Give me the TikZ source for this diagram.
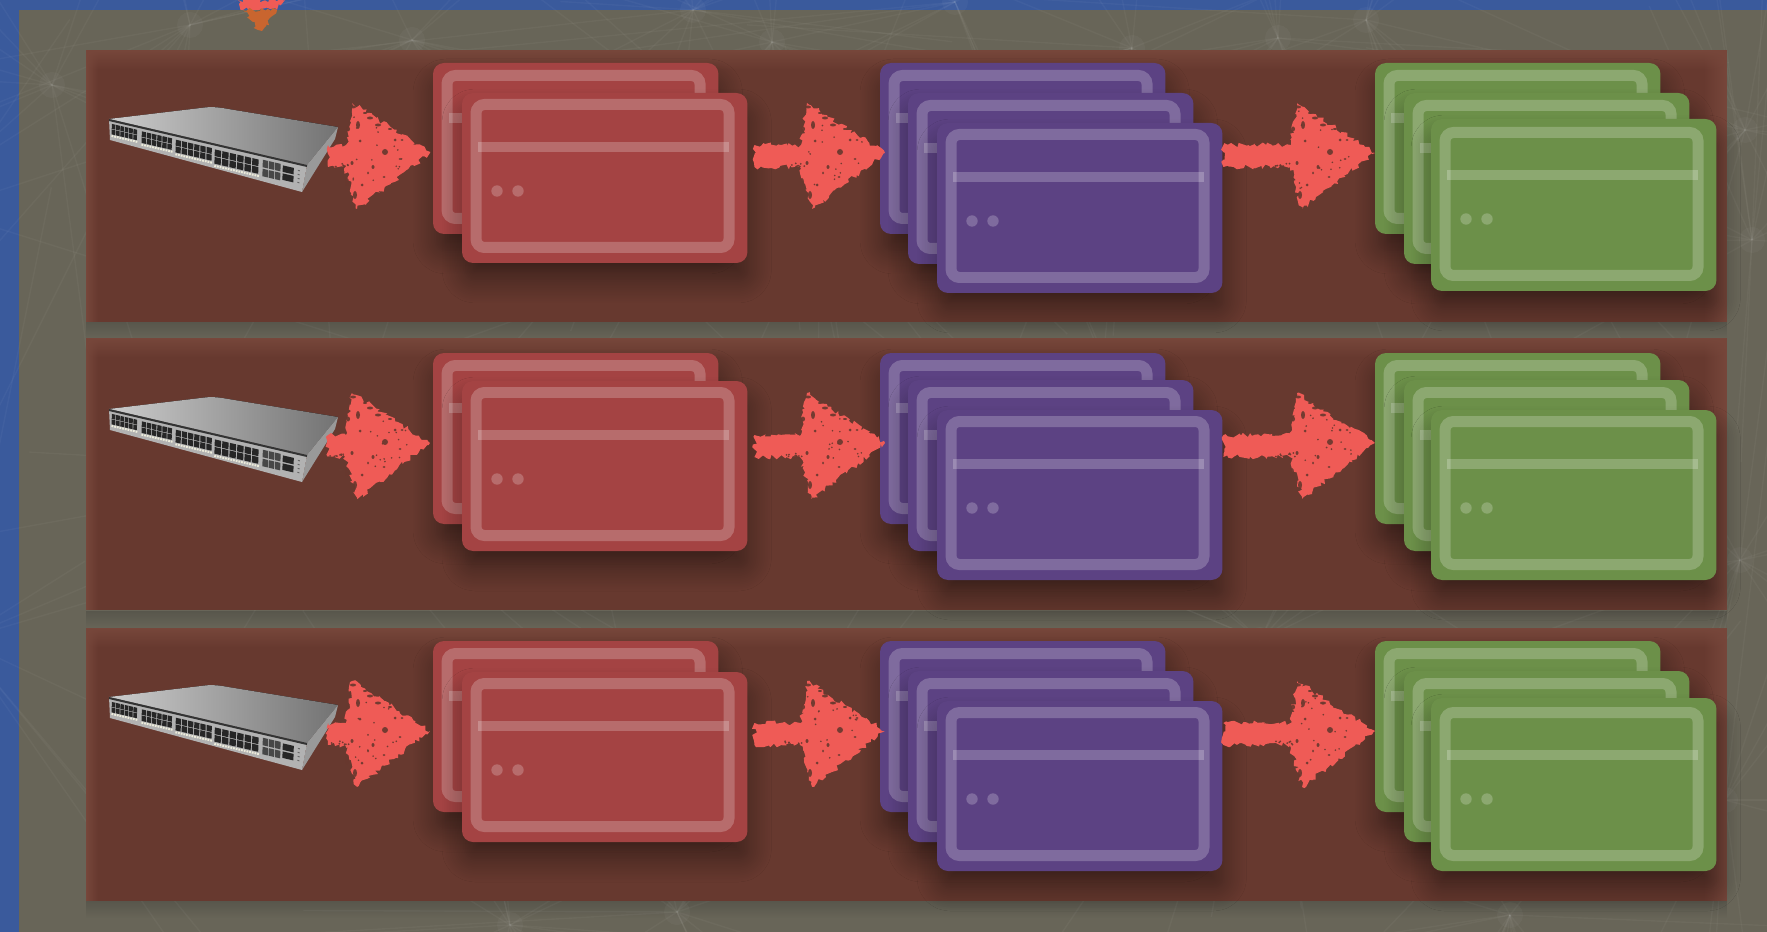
\documentclass[tikz,border=0pt]{standalone}
\usepackage{tikz}
\usetikzlibrary{calc, fadings, shadows.blur, decorations.pathmorphing}
\definecolor{bgolive}{HTML}{686558}
\definecolor{bgshade}{HTML}{4E4D44}
\definecolor{bandblue}{HTML}{3A5A9C}
\definecolor{rowbase}{HTML}{67382E}
\definecolor{rowlight}{HTML}{77473B}
\definecolor{blobred}{HTML}{EF5B56}
\definecolor{bloborange}{HTML}{C9652F}
\definecolor{cardred}{HTML}{A44343}
\definecolor{cardpurple}{HTML}{5C4283}
\definecolor{cardgreen}{HTML}{6C9049}
\tikzset{
  cardbox/.style={rounded corners=0.22cm, minimum width=5.71cm, inner sep=0pt, outer sep=0pt, anchor=south west,
    blur shadow={shadow xshift=0.04cm, shadow yshift=-0.36cm, shadow blur radius=0.44cm, shadow blur steps=14, shadow opacity=38}},
  cardring/.style={draw=white, draw opacity=0.22, line width=0.22cm, rounded corners=0.17cm},
  cardmark/.style={fill=white, fill opacity=0.22},
  rowbox/.style={fill=rowbase, fill opacity=0.97, minimum width=32.82cm, inner sep=0pt, outer sep=0pt, anchor=north west},
  blobby/.style={fill=blobred, decorate, decoration={random steps, segment length=0.06cm, amplitude=0.05cm}},
  speck/.style={fill=rowbase, fill opacity=0.9},
  netline/.style={white, opacity=0.035, line width=0.028cm},
  portblack/.style={fill=black!85}
}
% one card: name, left, bottom, colour, height
\newcommand{\card}[5]{
  \node[cardbox, fill=#4, minimum height=#5*0.02cm] (#1) at (#2,#3) {};
  \draw[cardring] ($(#1.south west)+(14,-15.5)$) rectangle ($(#1.south west)+(267,-158.5)$);
  \fill[cardmark] ($(#1.south west)+(16,-111)$) rectangle ($(#1.south west)+(267,-121)$);
  \fill[cardmark] ($(#1.south west)+(35,-72)$) circle (5.7);
  \fill[cardmark] ($(#1.south west)+(56,-72)$) circle (5.7);
}
% rough arrow: tail point, tip point, height point
\newcommand{\blobarrow}[3]{
  \path (#2 |- #3) coordinate (tip);
  \path (#1 |- #3) coordinate (tail);
  \fill[blobby] ($(tail)+(0,-8)$) -- ($(tip)+(-84,-8)$) -- ($(tip)+(-78,-50)$) -- (tip) -- ($(tip)+(-73,56)$) -- ($(tip)+(-85,14)$) -- ($(tail)+(0,14)$) -- cycle;
  \foreach \sx/\sy/\sa/\sb in {-75/42/2/4, -45/-1/3/3, -72/-28/2/4, -82/-24/2/2.5, -60/-35/3/1.5, -83/29/2/4, -35/-13/1.5/1.5, -57/14/1.5/2, -68/32/1.5/1.5, -77/-46/3/1.5, -70/-12/1.5/1.5, -52/-28/3/1.5, -40/-24/2/1, -62/20/1/1.5, -30/6/1.5/1, -78/10/1.5/2, -65/-40/2/1, -28/-13/1.5/1, -46/24/1.5/1}
    \fill[speck] ($(tip)+(\sx,\sy)$) ellipse (\sa*0.02cm and \sb*0.02cm);
  \foreach \k in {1,...,16} {
    \pgfmathsetmacro{\sx}{-78+rnd*55}
    \pgfmathsetmacro{\sy}{(rnd*2-1)*(-\sx)*0.55}
    \fill[speck] ($(tip)+(\sx,\sy)$) circle (0.9);
  }
  \foreach \k in {1,...,8} {
    \pgfmathsetmacro{\sx}{-80-rnd*20}
    \pgfmathsetmacro{\sy}{10+rnd*4}
    \fill[speck] ($(tip)+(\sx,\sy)$) circle (1);
  }
}
% rack switch, shifted down by dy
\newcommand{\netswitch}[1]{
  \begin{scope}[shift={(0,#1)}]
    \fill[left color=black!20, right color=black!55] (109,119) -- (205,107.5) .. controls (213,106.5) and (220,107.5) .. (228,109) -- (338,127) -- (307,165) -- cycle;
    \fill[black!40] (338,127) -- (335,139) -- (302,192) -- (307,165) -- cycle;
    \fill[black!30] (109,119) -- (307,165) -- (302,192) -- (110,140) -- cycle;
    \draw[black!80, line width=0.04cm] (109,120) -- (307,166);
    \begin{scope}[cm={1,-0.232,0.03,1,(109,119)}]
      \foreach \ua/\ub/\vs in {3/29/0.92, 33/64/1.02, 67/104/1.12, 106/151/1.26} {
        \pgfmathsetmacro{\pitch}{(\ub-\ua)/6}
        \foreach \c in {0,...,5} {
          \foreach \rw in {0,1} {
            \fill[portblack] (\ua+\c*\pitch,{(4.6+\rw*6)*\vs}) rectangle (\ua+\c*\pitch+0.84*\pitch,{(9.9+\rw*6)*\vs});
          }
        }
        \draw[yellow!50!black!15!white, line width=0.04cm, dash pattern=on 0.035cm off 0.02cm] (\ua,{17.6*\vs}) -- (\ub,{17.6*\vs});
      }
      % uplink ports
      \foreach \ua in {154,160.2,166.4} {
        \foreach \vv in {5,14} {
          \fill[black!72] (\ua,\vv) rectangle (\ua+5.4,\vv+7.5);
        }
      }
      \foreach \vv in {6,14} {
        \fill[portblack] (174,\vv) rectangle (185,\vv+6.5);
      }
      \foreach \vv in {7,11,15,19} {
        \fill[black!60] (189,\vv) rectangle (191,\vv+1);
      }
    \end{scope}
  \end{scope}
}
\begin{document}
\begin{tikzpicture}[x=0.02cm, y=-0.02cm]
  \useasboundingbox (0,0) rectangle (1767,932);
  % Backdrop
  \fill[bgolive] (0,0) rectangle (1767,932);
  \fill[bandblue] (0,0) rectangle (1767,10);
  \fill[bandblue] (0,0) rectangle (19,932);
  \foreach \sy in {322,611,901} {
    \fill[bgshade, opacity=0.6, path fading=south] (86,\sy) rectangle (1727,\sy+17);
  }
  % Faint network behind everything
  \begin{scope}
    \clip (0,0) rectangle (1767,932);
    \pgfmathsetseed{41}
    \foreach \hx/\hy in {52/85, 190/25, 412/40, 693/10, 772/42, 955/2, 1132/48, 1278/38, 1366/20, 1745/130, 1752/240, 1740/560, 1510/915, 677/912, 510/925, 1725/800, -60/210, -40/640, 340/470, 820/210, 1260/640} {
      \fill[white, opacity=0.03] (\hx,\hy) circle (13);
      \foreach \k in {1,...,15} {
        \pgfmathsetmacro{\ang}{rnd*360}
        \pgfmathsetmacro{\len}{120+rnd*420}
        \draw[netline] (\hx,\hy) -- ++({\len*cos(\ang)},{\len*sin(\ang)});
      }
    }
  \end{scope}
  % Top blob
  \fill[blobby] (238,0) -- (285,0) -- (277,10) -- (243,10) -- cycle;
  \fill[blobby, fill=bloborange] (243,10) -- (277,10) -- (262,31) -- (258,30) -- cycle;
  % Rows
  \foreach \r/\rowtop/\rowh/\dy/\backb/\redf/\purm/\purf/\grnf/\grnh in {1/50/272/0/234/263/264/293/291/172, 2/338/272/290/524/551/551/580/580/170, 3/628/273/578/812/842/842/871/871/173} {
    \node[rowbox, minimum height=\rowh*0.02cm] (row\r) at (86,\rowtop) {};
    \fill[rowlight, path fading=east] (row\r.north west) rectangle ($(row\r.south west)+(12,0)$);
    \fill[rowlight, path fading=west] ($(row\r.north east)+(-24,0)$) rectangle (row\r.south east);
    \fill[rowlight, path fading=south] (row\r.north west) rectangle ($(row\r.north east)+(0,20)$);
    % Cards
    \card{redb\r}{433}{\backb}{cardred}{171}
    \card{redf\r}{462}{\redf}{cardred}{170}
    \card{purb\r}{880}{\backb}{cardpurple}{171}
    \card{purm\r}{908}{\purm}{cardpurple}{171}
    \card{purf\r}{937}{\purf}{cardpurple}{170}
    \card{grnb\r}{1375}{\backb}{cardgreen}{171}
    \card{grnm\r}{1404}{\purm}{cardgreen}{171}
    \card{grnf\r}{1431}{\grnf}{cardgreen}{\grnh}
    % Switch
    \netswitch{\dy}
    \coordinate (switch\r) at (328,153+\dy);
    % Arrows
    \coordinate (tipa) at ($(redb\r.west)+(-3,0)$);
    \coordinate (taila) at ($(redf\r.east)+(7,0)$);
    \coordinate (tipb) at ($(purb\r.west)+(5,0)$);
    \coordinate (tailb) at ($(purf\r.east)+(1,0)$);
    \blobarrow{switch\r}{tipa}{switch\r}
    \blobarrow{taila}{tipb}{switch\r}
    \blobarrow{tailb}{grnb\r.west}{switch\r}
  }
\end{tikzpicture}
\end{document}
